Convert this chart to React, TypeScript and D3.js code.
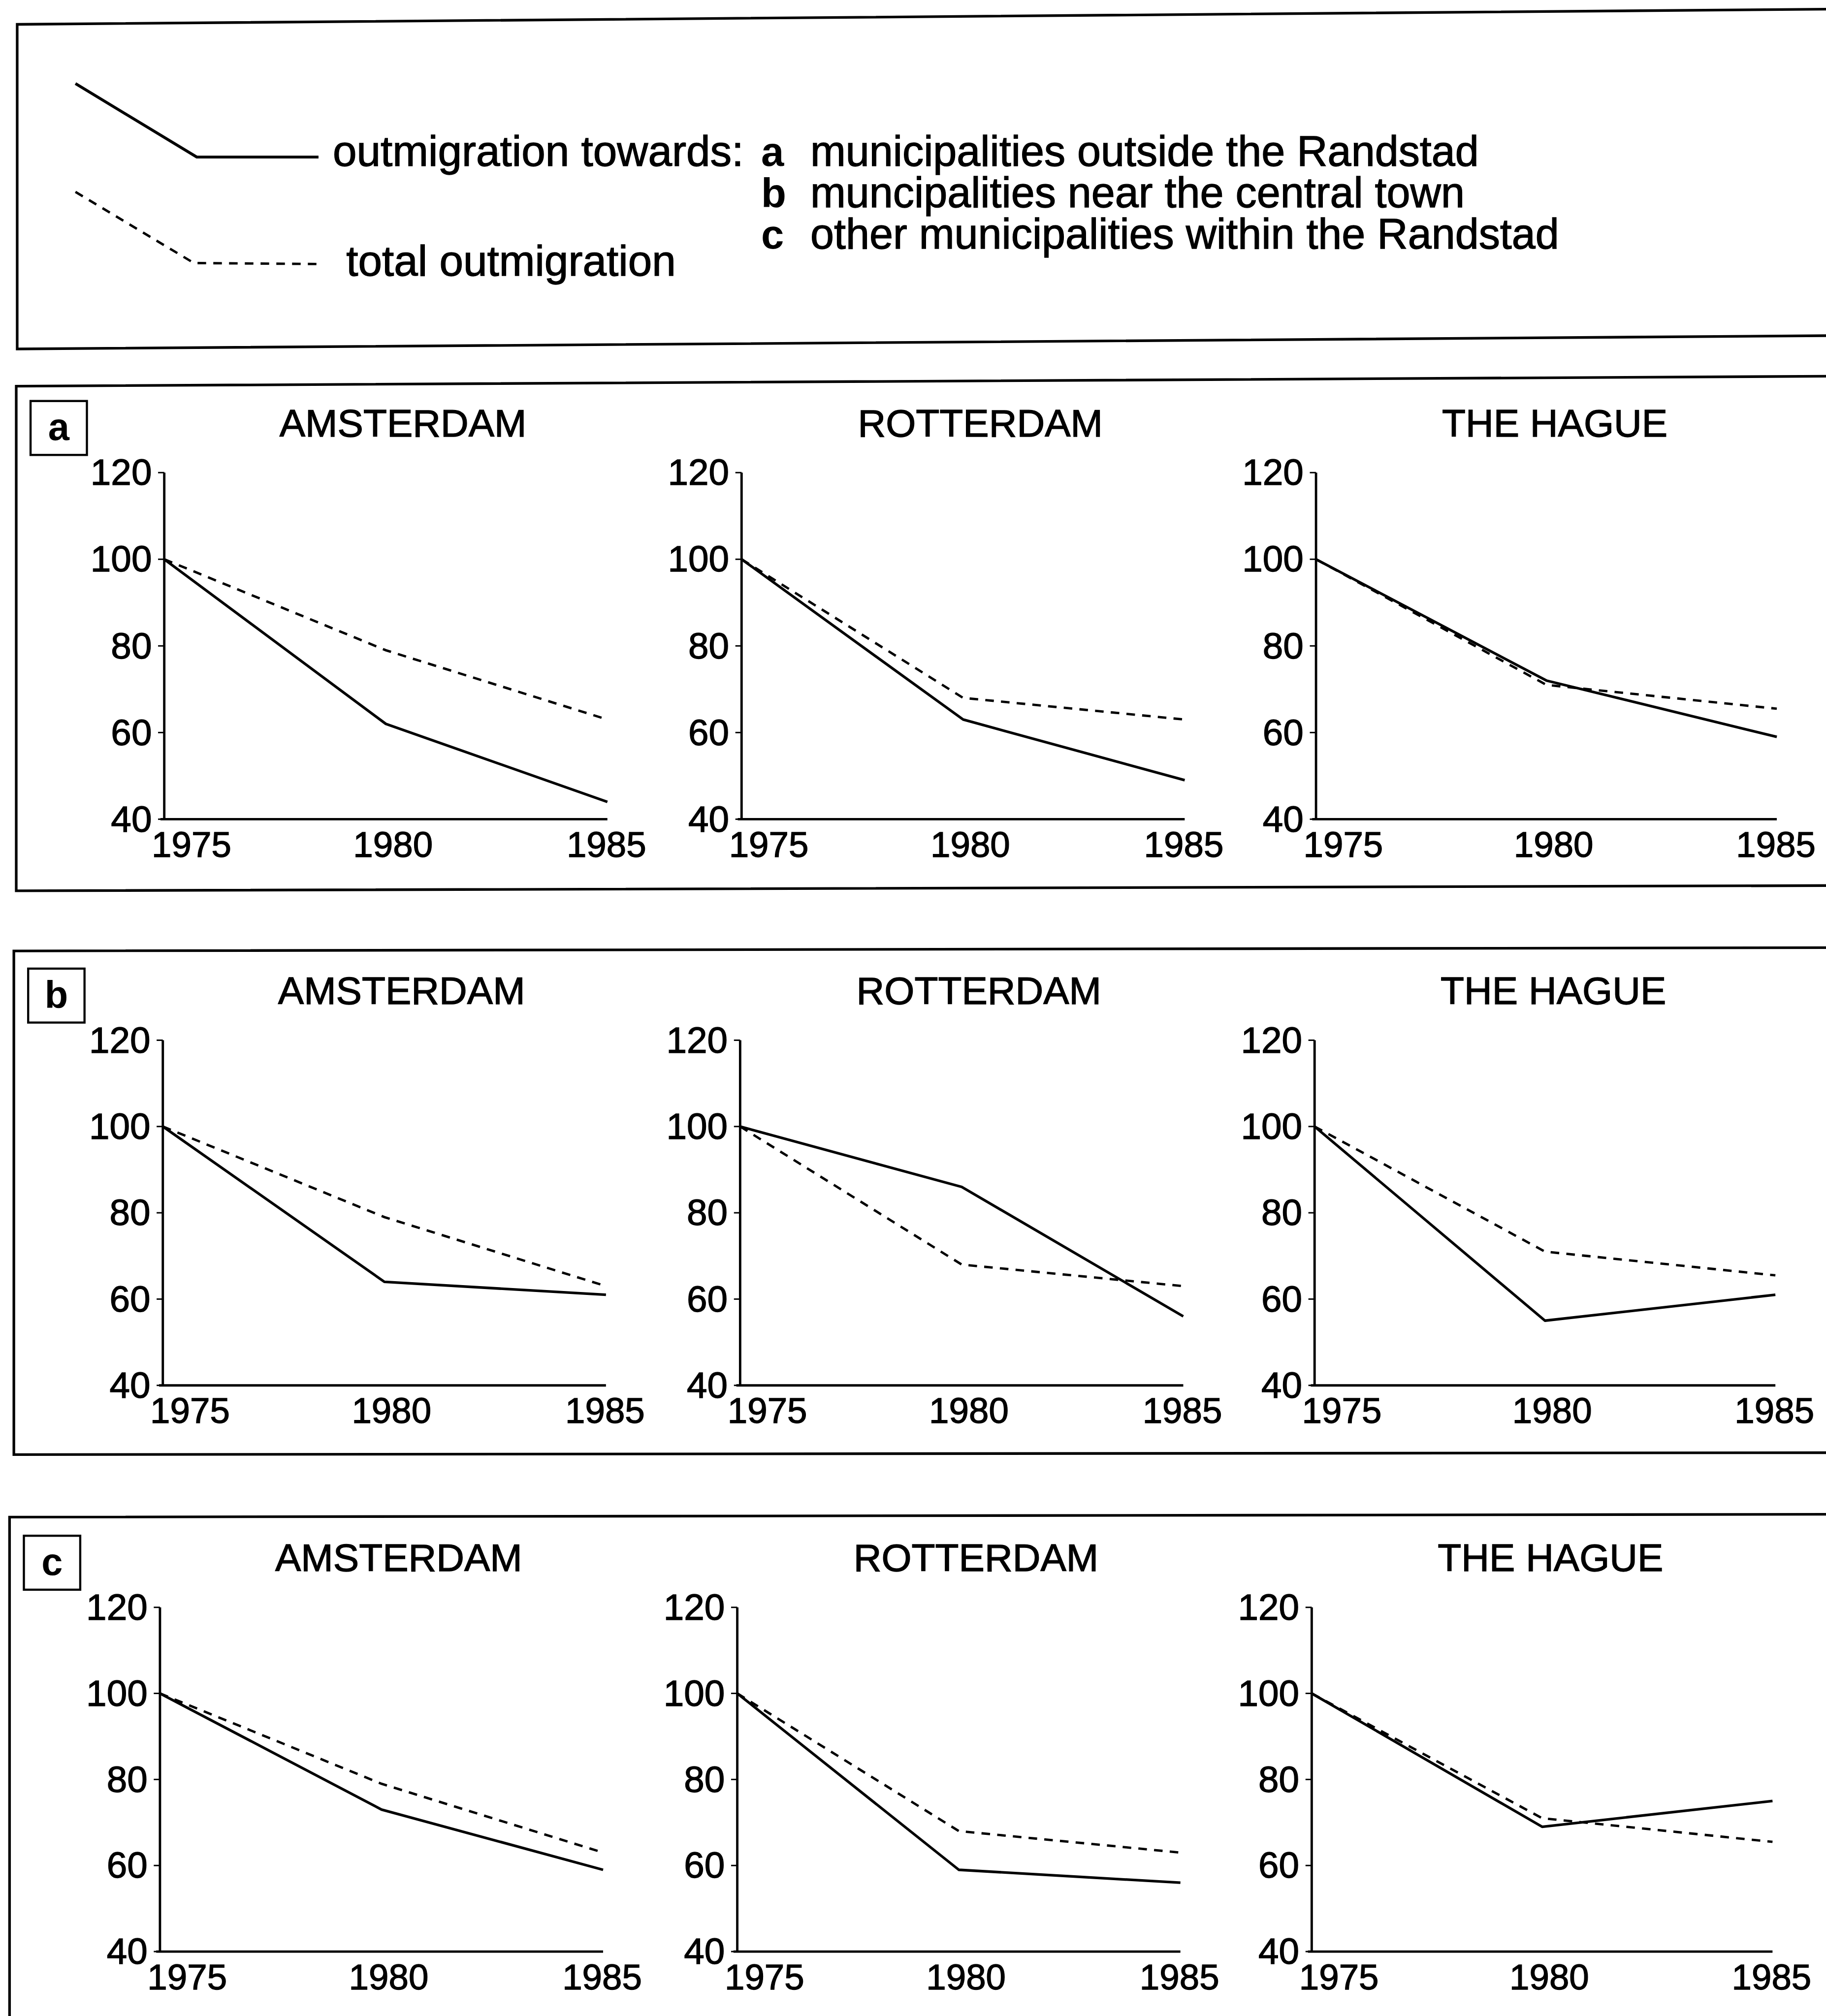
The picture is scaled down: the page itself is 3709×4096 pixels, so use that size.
import * as d3 from 'd3';

// ---- data (index, 1975 = 100) ----
const years = [1975, 1980, 1985];
const yTicks = [40, 60, 80, 100, 120];
const cities = ['AMSTERDAM', 'ROTTERDAM', 'THE HAGUE'];
const panelKeys = ['a', 'b', 'c'];

// one entry per city: Amsterdam, Rotterdam, The Hague
const towardsOutside = [[100, 62, 44], [100, 63, 49], [100, 72, 59]];
const towardsNear = [[100, 64, 61], [100, 86, 56], [100, 55, 61]];
const towardsOther = [[100, 73, 59], [100, 59, 56], [100, 69, 75]];
const totalOutmigration = [[100, 79, 63], [100, 68, 63], [100, 71, 65.5]];

const legendSolidLabel = 'outmigration towards:';
const legendDashedLabel = 'total outmigration';
const legendKeys = ['a', 'b', 'c'];
const legendDescs = [
  'municipalities outside the Randstad',
  'muncipalities near the central town',
  'other municipalities within the Randstad',
];

// ---- layout (reference pixel space) ----
const W = 3824;
const H = 4223;
const FONT = '"Liberation Sans", Arial, Helvetica, sans-serif';
const rowTop = [990, 2179, 3367]; // y of 120
const rowBottom = [1716, 2902, 4088]; // y of 40
const rowShift = [0, -3, -9];
const colLeft = [344, 1553, 2756];
const colRight = [1272, 2481, 3721];
const yearDx = [57, 15, -2];
const frames = [
  { l: 34, tl: 809, tr: 788, bl: 1866, br: 1855 },
  { l: 29, tl: 1992, tr: 1985, bl: 3047, br: 3043 },
  { l: 20, tl: 3178, tr: 3172, bl: 4240, br: 4240 },
];
const legendFrame = { l: 36, tl: 51, tr: 19, bl: 731, br: 703 };
const DASH = '18 15';
const TEXT_STROKE = 1.4; // scanned print looks a touch heavier than the regular face

const towardsByRow = [towardsOutside, towardsNear, towardsOther];

function Frame({ f }: { f: { l: number; tl: number; tr: number; bl: number; br: number } }) {
  return (
    <path
      d={`M ${W + 20} ${f.tr} L ${f.l} ${f.tl} L ${f.l} ${f.bl} L ${W + 20} ${f.br}`}
      fill="none"
      stroke="#000"
      strokeWidth={5.5}
    />
  );
}

function Panel({ row, col }: { row: number; col: number }) {
  const x = d3
    .scaleLinear()
    .domain([years[0], years[years.length - 1]])
    .range([colLeft[col] + rowShift[row], colRight[col] + rowShift[row]]);
  const y = d3.scaleLinear().domain([40, 120]).range([rowBottom[row], rowTop[row]]);
  const line = d3
    .line<number>()
    .x((_, i) => x(years[i]))
    .y(d => y(d));

  const x0 = x.range()[0];
  const x1 = x.range()[1];

  return (
    <g>
      <text x={x0 + 500} y={y(120) - 76} fontSize={81} textAnchor="middle">
        {cities[col]}
      </text>
      {/* axes */}
      <line x1={x0} x2={x0} y1={y(120)} y2={y(40)} stroke="#000" strokeWidth={5} />
      <line x1={x0 - 8} x2={x1} y1={y(40)} y2={y(40)} stroke="#000" strokeWidth={5} />
      {yTicks.map(t => (
        <g key={t}>
          <line x1={x0 - 13} x2={x0} y1={y(t)} y2={y(t)} stroke="#000" strokeWidth={3} />
          <text x={x0 - 26} y={y(t) + 26} fontSize={77} textAnchor="end">
            {t}
          </text>
        </g>
      ))}
      {years.map((yr, i) => (
        <text key={yr} x={x(yr) + yearDx[i]} y={y(40) + 79} fontSize={75} textAnchor="middle">
          {yr}
        </text>
      ))}
      {/* series */}
      <path
        d={line(totalOutmigration[col]) || ''}
        fill="none"
        stroke="#000"
        strokeWidth={5}
        strokeDasharray={DASH}
      />
      <path
        d={line(towardsByRow[row][col]) || ''}
        fill="none"
        stroke="#000"
        strokeWidth={5.5}
        strokeLinejoin="round"
      />
    </g>
  );
}

function Legend() {
  const baseY = 347;
  const lineGap = 87;
  return (
    <g>
      <Frame f={legendFrame} />
      <path d="M 158 175 L 412 329 L 667 329" fill="none" stroke="#000" strokeWidth={6} />
      <path
        d="M 158 402 L 406 551 L 667 553"
        fill="none"
        stroke="#000"
        strokeWidth={5}
        strokeDasharray={DASH}
      />
      <text x={697} y={baseY} fontSize={90}>
        {legendSolidLabel}
      </text>
      <text x={725} y={577} fontSize={90}>
        {legendDashedLabel}
      </text>
      {legendKeys.map((k, i) => (
        <g key={k}>
          <text x={1594} y={baseY + i * lineGap} fontSize={86} fontWeight="bold" strokeWidth={0}>
            {k}
          </text>
          <text x={1697} y={baseY + i * lineGap} fontSize={89}>
            {legendDescs[i]}
          </text>
        </g>
      ))}
    </g>
  );
}

export default function App() {
  return (
    <svg
      width={3709}
      height={4096}
      viewBox={`0 0 ${W} ${H}`}
      style={{ position: 'absolute', left: 0, top: 0, display: 'block' }}
      fontFamily={FONT}
    >
      <rect width={W} height={H} fill="#fff" />
      <g stroke="#000" strokeWidth={TEXT_STROKE}>
        <Legend />
        {panelKeys.map((k, row) => {
          const f = frames[row];
          const boxX = f.l + 30;
          const boxY = rowTop[row] - 150;
          return (
            <g key={k}>
              <Frame f={f} />
              <rect x={boxX} y={boxY} width={118} height={113} fill="none" stroke="#000" strokeWidth={4.5} />
              <text x={boxX + 59} y={boxY + 82} fontSize={80} fontWeight="bold" textAnchor="middle" strokeWidth={0}>
                {k}
              </text>
              {cities.map((c, col) => (
                <Panel key={c} row={row} col={col} />
              ))}
            </g>
          );
        })}
      </g>
    </svg>
  );
}
